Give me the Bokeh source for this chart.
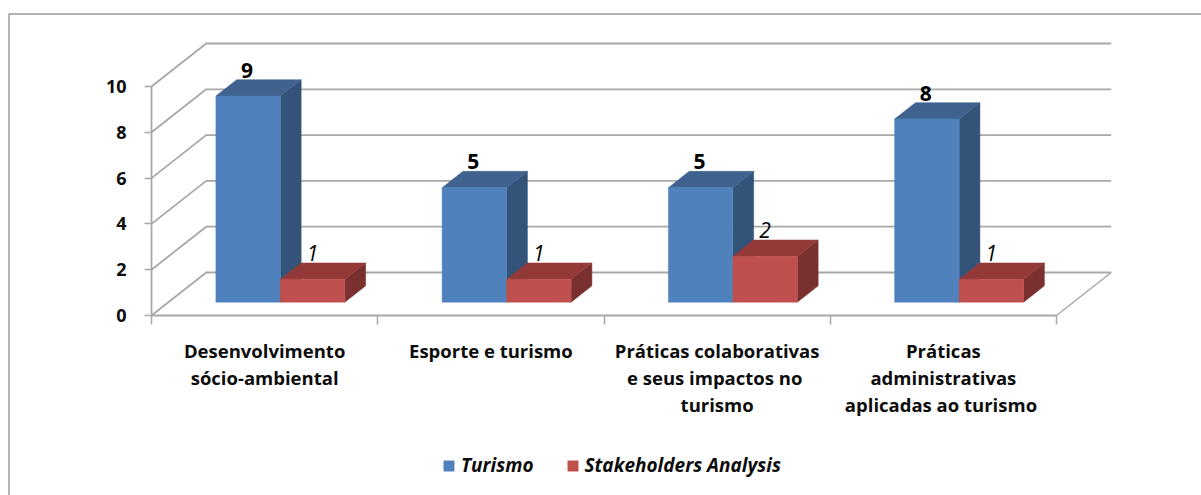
from bokeh.embed import file_html
from bokeh.resources import INLINE
from bokeh.plotting import figure
from bokeh.models import LinearAxis, FixedTicker, Range1d, Legend, LegendItem
from bokeh.core.properties import value

categories = ["Desenvolvimento\nsócio-ambiental", "Esporte e turismo",
              "Práticas colaborativas\ne seus impactos  no\nturismo",
              "Práticas\nadministrativas\naplicadas  ao turismo"]
turismo = [9, 5, 5, 8]
stakeholders = [1, 1, 2, 1]
series_names = ["Turismo", "Stakeholders Analysis"]
y_ticks = [0, 2, 4, 6, 8, 10]

W, H = 1201, 495
PAGE_X, PAGE_Y = 0, 0            # where the figure's corner lands in the picture
PX_X, PX_Y = 226.25, 22.9        # pixels per category / per value unit
X0_PAGE, Y0_PAGE = 151, 315      # picture position of the origin
DX, DY = 54.7 / PX_X, 43 / PX_Y  # full chart depth in data units
D0, D1 = 0.31, 0.69              # bar depth span
BAR_W = 0.285
BAR_SHIFT = -1.2 / PX_X
FONT_NAME = "Open Sans"
FONT = value(FONT_NAME)
GRID = "#a8a8a8"
TXT = "#0d0d0d"

xr = Range1d((PAGE_X - X0_PAGE) / PX_X, (PAGE_X + W - X0_PAGE) / PX_X)
yr = Range1d((Y0_PAGE - PAGE_Y - H) / PX_Y, (Y0_PAGE - PAGE_Y) / PX_Y)

p = figure(width=W, height=H, x_range=xr, y_range=yr, x_axis_type=None, y_axis_type=None,
           output_backend="svg", toolbar_location=None, min_border=0,
           outline_line_color=None, background_fill_color="white")

def proj(x, v, d):
    return x + d * DX, v + d * DY

n = len(categories)
# outer frame (top and left edges)
top_v = (Y0_PAGE - 13.5) / PX_Y
left_x = (8.5 - X0_PAGE) / PX_X
p.line([xr.end, left_x, left_x], [top_v, top_v, yr.start],
       line_color="#9a9a9a", line_width=1.5)

# walls and floor
for t in y_ticks:
    bx, by = proj(0, t, 1)
    ex, ey = proj(n, t, 1)
    p.line([0, bx, ex], [t, by, ey], line_color=GRID, line_width=1.8)
fx, fy = proj(n, 0, 1)
p.line([n, fx], [0, fy], line_color=GRID, line_width=1.5)

def bar_faces(x0, x1, v):
    top = [proj(x0, v, D0), proj(x1, v, D0), proj(x1, v, D1), proj(x0, v, D1)]
    side = [proj(x1, 0, D0), proj(x1, 0, D1), proj(x1, v, D1), proj(x1, v, D0)]
    front = [proj(x0, 0, D0), proj(x1, 0, D0), proj(x1, v, D0), proj(x0, v, D0)]
    return front, side, top

def draw(vals, offset, colors):
    fronts, sides, tops = [], [], []
    for i, v in enumerate(vals):
        x0 = i + 0.5 + offset + BAR_SHIFT
        f, s, t = bar_faces(x0, x0 + BAR_W, v)
        fronts.append(f); sides.append(s); tops.append(t)
    out = None
    for faces, c in zip((sides, tops, fronts), colors):
        out = p.patches([[q[0] for q in g] for g in faces], [[q[1] for q in g] for g in faces],
                        fill_color=c, line_color=c, line_width=0.5)
    return out

r_blue = draw(turismo, -BAR_W, ("#335379", "#3f628f", "#4f81bd"))
r_red = draw(stakeholders, 0, ("#7a302e", "#933a38", "#c0504d"))

# data labels
lx = [proj(i + 0.5 - BAR_W / 2, v, D1)[0] - 23 / PX_X for i, v in enumerate(turismo)]
ly = [proj(i + 0.5, v, D1)[1] for i, v in enumerate(turismo)]
p.text(lx, ly, text=[str(v) for v in turismo], text_font=FONT, text_font_size="21px",
       text_font_style="bold", text_color="#000000", text_align="center",
       text_baseline="bottom", y_offset=-2)
rx = [proj(i + 0.5 + BAR_W / 2, v, D1)[0] - 22 / PX_X for i, v in enumerate(stakeholders)]
ry = [proj(i + 0.5, v, D1)[1] for i, v in enumerate(stakeholders)]
p.text(rx, ry, text=[str(v) for v in stakeholders], text_font=FONT, text_font_size="21px",
       text_font_style="italic", text_color="#000000", text_align="center",
       text_baseline="bottom", y_offset=-2)

# axes
yax = LinearAxis(fixed_location=0, ticker=FixedTicker(ticks=y_ticks), bounds=(0, 10))
yax.axis_line_color = GRID; yax.axis_line_width = 1.8
yax.major_tick_line_color = GRID; yax.major_tick_line_width = 1.5
yax.major_tick_out = 7; yax.major_tick_in = 0; yax.minor_tick_line_color = None
yax.major_label_standoff = 18
yax.major_label_text_font = FONT_NAME; yax.major_label_text_font_style = "bold"
yax.major_label_text_font_size = "18px"; yax.major_label_text_color = TXT
p.add_layout(yax, "left")

xax = LinearAxis(fixed_location=0, ticker=FixedTicker(ticks=list(range(n + 1))), bounds=(0, n))
xax.axis_line_color = GRID; xax.axis_line_width = 1.8
xax.major_tick_line_color = GRID; xax.major_tick_line_width = 1.5
xax.major_tick_out = 9; xax.major_tick_in = 0; xax.minor_tick_line_color = None
xax.major_label_text_color = None; xax.major_label_text_font_size = "1px"
p.add_layout(xax, "below")

# category labels
cat_y = [(Y0_PAGE - 337) / PX_Y] * n
p.text([i + 0.5 for i in range(n)], cat_y, text=categories, text_font=FONT,
       text_font_size="18.5px", text_font_style="bold", text_color=TXT,
       text_align="center", text_baseline="top", text_line_height=1.08)

legend = Legend(items=[LegendItem(label=series_names[0], renderers=[r_blue]),
                       LegendItem(label=series_names[1], renderers=[r_red])],
                orientation="horizontal", location=(442, 17), background_fill_alpha=0,
                border_line_color=None, glyph_width=13, glyph_height=13, spacing=32,
                label_standoff=6, padding=4, margin=0, label_text_font=FONT_NAME,
                label_text_font_style="bold italic", label_text_font_size="19px",
                label_text_color=TXT)
p.add_layout(legend, "center")

open("out.html", "w").write(file_html(p, INLINE))
